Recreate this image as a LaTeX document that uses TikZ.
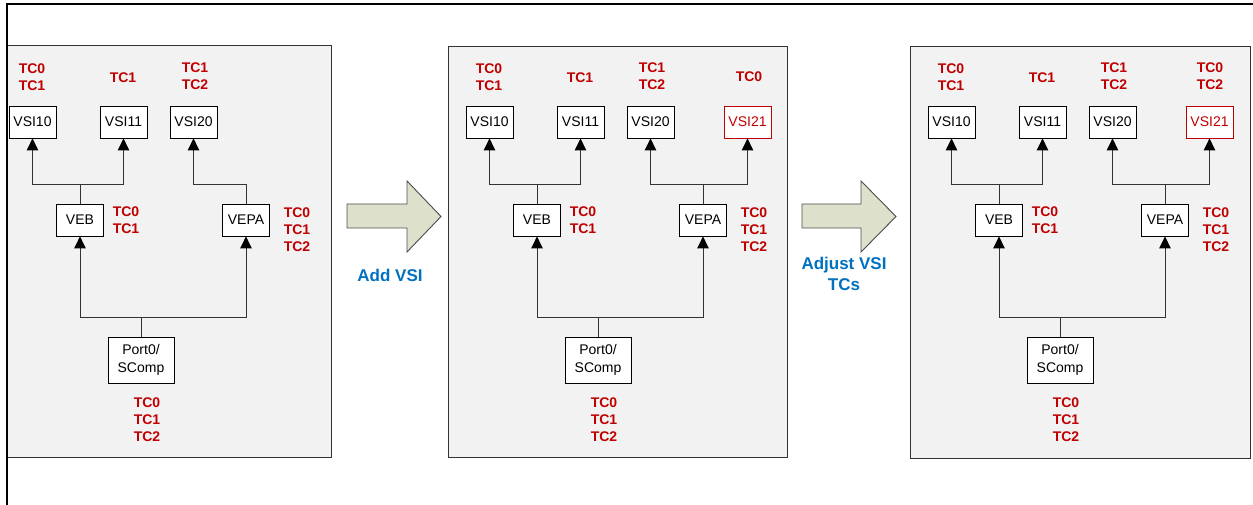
\documentclass[tikz,border=0pt]{standalone}
\usepackage{fontspec}
\setmainfont{Liberation Sans}
\usetikzlibrary{arrows.meta}
\definecolor{tcred}{HTML}{C00000}
\definecolor{noteblue}{HTML}{0070C0}
\definecolor{panelgray}{HTML}{F2F2F2}
\definecolor{stepgreen}{HTML}{DDE1CC}
\tikzset{
    box/.style={draw,fill=white,line width=0.8pt,minimum width=47pt,minimum height=32pt,inner sep=0pt,font=\fontsize{14}{16}\selectfont},
    tc/.style={text=tcred,align=center,inner sep=0pt,font=\fontsize{14}{17}\selectfont\bfseries},
    link/.style={draw=black!80,line width=1pt},
    tiparrow/.style={draw=black!80,line width=1pt,-{Triangle[length=12pt,width=11.5pt,color=black]}},
    panel/.style={draw=black!80,fill=panelgray,line width=0.9pt},
    bigarrow/.style={draw=black!70,fill=stepgreen,line width=0.9pt},
    note/.style={text=noteblue,align=center,font=\fontsize{17}{21}\selectfont\bfseries}
}

\begin{document}
\begin{tikzpicture}[x=1pt,y=-1pt]
    \useasboundingbox (0,0) rectangle (1253,505);

    % panels
    \draw[panel] (7,45) rectangle (331,457);
    \draw[panel] (448,46) rectangle (787,457);
    \draw[panel] (910,46) rectangle (1250,458);
    % outer frame, only top and left edges show
    \draw[line width=2pt] (1253,4) -- (7,4) -- (7,505);

    % same tree in every panel
    \foreach \p/\dx in {a/-457,b/0,c/462} {
      \begin{scope}[xshift=\dx]
        \node[box] (\p-vsi10) at (489.5,122) {VSI10};
        \node[box] (\p-vsi11) at (580.5,122) {VSI11};
        \node[box] (\p-vsi20) at (650.5,122) {VSI20};
        \node[box] (\p-veb) at (537,220) {VEB};
        \node[box] (\p-vepa) at (703,220) {VEPA};
        \node[box,minimum width=66pt,minimum height=46pt,align=center,
              font=\fontsize{14}{18}\selectfont] (\p-port) at (598,360) {Port0/\\SComp};

        \node[tc] (\p-tc10) at (489,77) {TC0\\TC1};
        \node[tc] (\p-tc11) at (580,78) {TC1};
        \node[tc] (\p-tc20) at (652,76) {TC1\\TC2};
        \node[tc] (\p-tcveb) at (583,220) {TC0\\TC1};
        \node[tc] (\p-tcvepa) at (754,230) {TC0\\TC1\\TC2};
        \node[tc] (\p-tcport) at (604,420) {TC0\\TC1\\TC2};

        \draw[link] (\p-veb.north) -- ++(0,-19.5) coordinate (\p-j1);
        \draw[link] (\p-vepa.north) -- ++(0,-19.5) coordinate (\p-j2);
        \draw[link] (\p-port.north) -- ++(0,-19) coordinate (\p-j3);
        \draw[tiparrow] (\p-j1) -| (\p-vsi10.south);
        \draw[tiparrow] (\p-j1) -| (\p-vsi11.south);
        \draw[tiparrow] (\p-j2) -| (\p-vsi20.south);
        \draw[tiparrow] (\p-j3) -| (\p-veb.south);
        \draw[tiparrow] (\p-j3) -| (\p-vepa.south);
      \end{scope}
    }

    % the added VSI
    \node[box,draw=tcred,text=tcred] (b-vsi21) at (747.5,122) {VSI21};
    \node[tc] (b-tc21) at (749,77) {TC0};
    \node[box,draw=tcred,text=tcred] (c-vsi21) at (1209.5,122) {VSI21};
    \node[tc] (c-tc21) at (1210,76) {TC0\\TC2};
    \foreach \p in {b,c} {\draw[tiparrow] (\p-j2) -| (\p-vsi21.south);}

    % steps between panels
    \draw[bigarrow] (347,204) -- (407,204) -- (407,181) -- (441,216.5)
        -- (407,252) -- (407,228) -- (347,228) -- cycle;
    \node[note] (add) at (390,275) {Add VSI};
    \draw[bigarrow] (802,204) -- (861,204) -- (861,181) -- (896,216.5)
        -- (861,252) -- (861,228) -- (802,228) -- cycle;
    \node[note] (adjust) at (844,274) {Adjust VSI\\TCs};
\end{tikzpicture}
\end{document}
